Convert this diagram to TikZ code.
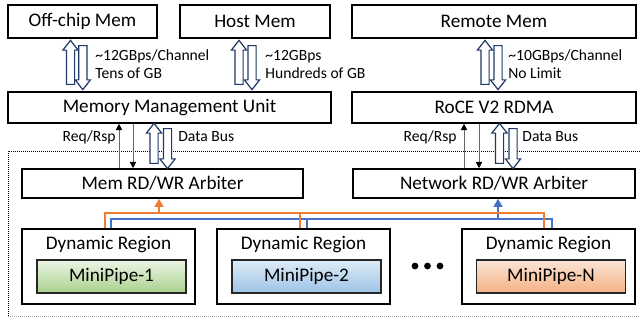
\documentclass[tikz,border=0pt]{standalone}
\usepackage{fontspec}
\setmainfont{Carlito}
\usetikzlibrary{shapes.arrows, arrows.meta, positioning}

\definecolor{navy}{RGB}{32,56,100}
\definecolor{busorange}{RGB}{237,125,49}
\definecolor{busblue}{RGB}{68,114,196}

\tikzset{
  unit/.style={rectangle, draw, line width=0.8pt, inner sep=0pt, font=\fontsize{9.6}{11}\selectfont},
  region/.style={unit, minimum width=86.5pt, minimum height=37.5pt},
  pipe/.style={unit, draw=black!85, minimum width=74.5pt, minimum height=16.5pt},
  hollowup/.style={single arrow, draw=navy, fill=white, line width=0.6pt, minimum width=0pt, inner sep=1.75pt,
    single arrow head extend=1.75pt, single arrow tip angle=76, single arrow head indent=0pt, rotate=90},
  hollowdown/.style={hollowup, rotate=180},
  note/.style={font=\fontsize{7.8}{9}\selectfont, align=left, anchor=west, inner sep=0pt},
  reqline/.style={draw=black!60, line width=0.5pt, -{Triangle[length=3.2pt, width=3.2pt, color=black]}},
  obusline/.style={draw=busorange, line width=0.6pt},
  bbusline/.style={draw=busblue, line width=0.6pt}
}

\begin{document}
\begin{tikzpicture}
        \useasboundingbox (0,0) rectangle (320pt,-160pt);

        % Memories
        \node[unit, minimum width=74.5pt, minimum height=16.5pt] (offchip) at (41.25pt,-10.75pt) {Off-chip Mem};
        \node[unit, minimum width=75pt, minimum height=16.5pt, right=10.7pt of offchip] (host) {Host Mem};
        \node[unit, minimum width=142pt, minimum height=16.5pt, right=10.2pt of host] (remote) {Remote Mem};

        % Controllers
        \node[unit, minimum width=161.5pt, minimum height=15.5pt] (mmu) at (84.75pt,-53.75pt) {Memory Management Unit};
        \node[unit, minimum width=142pt, minimum height=15.5pt] (rdma) at (247pt,-53.75pt) {RoCE V2 RDMA};

        % Arbiters
        \node[unit, minimum width=140.5pt, minimum height=14.5pt] (memarb) at (81.25pt,-91.75pt) {Mem RD/WR Arbiter};
        \node[unit, minimum width=141pt, minimum height=14.5pt] (netarb) at (247pt,-91.75pt) {Network RD/WR Arbiter};

        % Dynamic regions
        \node[region, label={[anchor=north, inner sep=0pt, yshift=-4pt, font=\fontsize{9.6}{11}\selectfont]north:Dynamic Region}] (dr1) at (54.25pt,-133.25pt) {};
        \node[region, label={[anchor=north, inner sep=0pt, yshift=-4pt, font=\fontsize{9.6}{11}\selectfont]north:Dynamic Region}] (dr2) at (151.75pt,-133.25pt) {};
        \node[region, label={[anchor=north, inner sep=0pt, yshift=-4pt, font=\fontsize{9.6}{11}\selectfont]north:Dynamic Region}] (drn) at (274.25pt,-133.25pt) {};
        \node[pipe, top color={rgb,255:red,235;green,244;blue,228}, bottom color={rgb,255:red,169;green,209;blue,142}] (pipe1) at ([xshift=1.5pt, yshift=-5pt]dr1.center) {MiniPipe-1};
        \node[pipe, top color={rgb,255:red,222;green,235;blue,247}, bottom color={rgb,255:red,157;green,195;blue,230}] (pipe2) at ([xshift=1.5pt, yshift=-5pt]dr2.center) {MiniPipe-2};
        \node[pipe, top color={rgb,255:red,251;green,229;blue,214}, bottom color={rgb,255:red,244;green,177;blue,131}] (pipen) at ([xshift=1.25pt, yshift=-5pt]drn.center) {MiniPipe-N};
        \foreach \x in {207.5,213.75,220}
            \fill (\x pt,-133pt) circle (1.7pt);

        % Shell boundary
        \draw[line width=0.5pt, dash pattern=on 0.5pt off 0.5pt] (4pt,-158pt) |- (321pt,-75.5pt);
        \draw[line width=0.5pt, dash pattern=on 0.5pt off 0.5pt, black!35] (4pt,-158pt) -- (321pt,-158pt);

        % Off-chip links
        \node[hollowup, minimum height=22pt] (offup) at (35.25pt,-32.5pt) {};
        \node[hollowdown, minimum height=22pt] (offdown) at (41.4pt,-32.5pt) {};
        \node[hollowup, minimum height=22pt] (hostup) at (119.5pt,-32.5pt) {};
        \node[hollowdown, minimum height=22pt] (hostdown) at (126pt,-32.5pt) {};
        \node[hollowup, minimum height=22pt] (remoteup) at (242.5pt,-32.5pt) {};
        \node[hollowdown, minimum height=22pt] (remotedown) at (249pt,-32.5pt) {};
        \node[note] (offnote) at (47.5pt,-32pt) {\textasciitilde12GBps/Channel\\Tens of GB};
        \node[note] (hostnote) at (132.5pt,-32pt) {\textasciitilde12GBps\\Hundreds of GB};
        \node[note] (remotenote) at (254pt,-32pt) {\textasciitilde10GBps/Channel\\No Limit};

        % Data buses
        \node[hollowup, minimum height=20pt] (memup) at (77pt,-73pt) {};
        \node[hollowdown, minimum height=20pt] (memdown) at (83.75pt,-73pt) {};
        \node[hollowup, minimum height=20pt] (netup) at (249.75pt,-73pt) {};
        \node[hollowdown, minimum height=20pt] (netdown) at (256.5pt,-73pt) {};
        \node[note] (membus) at (89pt,-68.5pt) {Data Bus};
        \node[note] (netbus) at (261pt,-68.5pt) {Data Bus};

        % Request / response
        \coordinate (lreq) at (59.5pt,0);
        \coordinate (lrsp) at (66.5pt,0);
        \coordinate (rreq) at (232pt,0);
        \coordinate (rrsp) at (239.5pt,0);
        \draw[reqline] (memarb.north -| lreq) -- (mmu.south -| lreq);
        \draw[reqline] (mmu.south -| lrsp) -- (memarb.north -| lrsp);
        \draw[reqline] (netarb.north -| rreq) -- (rdma.south -| rreq);
        \draw[reqline] (rdma.south -| rrsp) -- (netarb.north -| rrsp);
        \node[note, anchor=east] (memreq) at (58pt,-68.5pt) {Req/Rsp};
        \node[note, anchor=east] (netreq) at (228.5pt,-68.5pt) {Req/Rsp};

        % Region buses
        \coordinate (b1) at (55.5pt,-109.5pt);
        \coordinate (b2) at (153.5pt,-109.5pt);
        \coordinate (b3) at (276pt,-109.5pt);
        \coordinate (barr) at (249pt,-109.5pt);
        \coordinate (o1) at (52.5pt,-106.5pt);
        \coordinate (o2) at (150pt,-106.5pt);
        \coordinate (o3) at (272pt,-106.5pt);
        \coordinate (oarr) at (79.5pt,-106.5pt);
        \draw[bbusline] (dr1.north -| b1) |- (b3) -- (drn.north -| b3);
        \draw[bbusline] (b2) -- (dr2.north -| b2);
        \draw[bbusline, -{Triangle[length=4pt, width=4.5pt]}] (barr) -- (netarb.south -| barr);
        \draw[obusline] (dr1.north -| o1) |- (o3) -- (drn.north -| o3);
        \draw[obusline] (o2) -- (dr2.north -| o2);
        \draw[obusline, -{Triangle[length=4pt, width=4.5pt]}] (oarr) -- (memarb.south -| oarr);
\end{tikzpicture}
\end{document}
